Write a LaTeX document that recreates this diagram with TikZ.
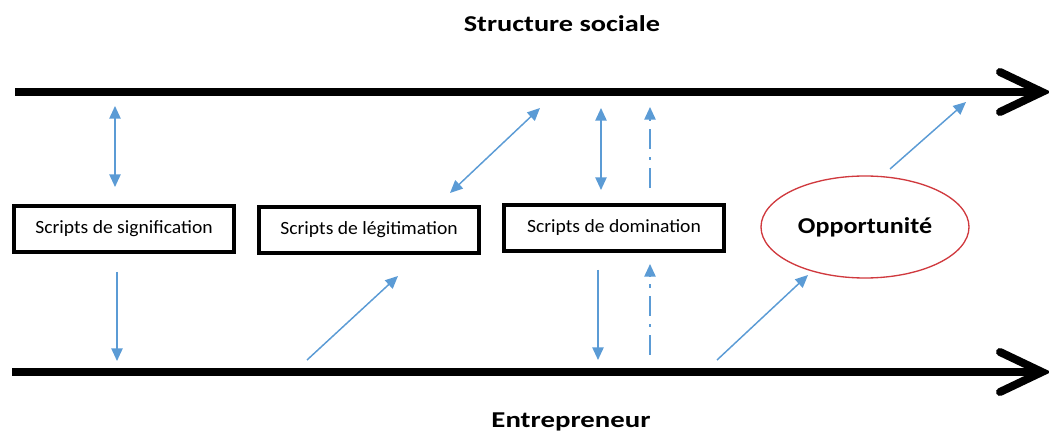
\documentclass[tikz,border=0pt]{standalone}
\usepackage{fontspec}
\setmainfont{Carlito}
\usetikzlibrary{arrows.meta,shapes.geometric}
\definecolor{arrowblue}{HTML}{5B9BD5}
\definecolor{ovalred}{HTML}{D0393E}
\begin{document}
\begin{tikzpicture}[x=0.75pt,y=-0.75pt,
  axis/.style={line width=6pt},
  chevron/.style={line width=6pt,line cap=round,line join=miter},
  scriptbox/.style={draw,line width=2.6pt,minimum width=220*0.75pt,minimum height=46*0.75pt,inner sep=0pt,font=\fontsize{14}{16}\selectfont},
  oval/.style={draw=ovalred,line width=1pt,ellipse,minimum width=208*0.75pt,minimum height=102*0.75pt,inner sep=0pt,font=\bfseries\fontsize{17}{19}\selectfont},
  title/.style={font=\bfseries\fontsize{17}{19}\selectfont,anchor=base,inner sep=0pt},
  blue/.style={draw=arrowblue,line width=1.1pt,-{Triangle[width=8.5pt,length=9.5pt]}},
  bluetwo/.style={draw=arrowblue,line width=1.1pt,{Triangle[width=8.5pt,length=9.5pt]}-{Triangle[width=8.5pt,length=9.5pt]}},
  dashdot/.style={dash pattern=on 15pt off 6pt on 2.5pt off 6pt}
]
\useasboundingbox (0,0) rectangle (1049,434);
% titles
\node[title] (ss) at (562,32) {\scalebox{1.25}[1]{Structure sociale}};
\node[title] (en) at (571,427) {\scalebox{1.27}[1]{Entrepreneur}};
% axes
\coordinate (t0) at (15,92);
\coordinate (t1) at (1042,92);
\coordinate (b0) at (12,372);
\coordinate (b1) at (1042,372);
\draw[axis] (t0) -- (t1);
\draw[axis] (b0) -- (b1);
\draw[chevron] (1000,72) -- (t1) -- (1000,112);
\draw[chevron] (1000,352) -- (b1) -- (1000,392);
% boxes
\node[scriptbox] (sig) at (124,229) {\scalebox{1.05}[1]{Scripts de signification}};
\node[scriptbox] (leg) at (369,230) {\scalebox{1.05}[1]{Scripts de légitimation}};
\node[scriptbox] (dom) at (614,228) {\scalebox{1.05}[1]{Scripts de domination}};
\node[oval] (opp) at (865,227) {\scalebox{1.15}[1]{Opportunité}};
% arrows column 1
\coordinate (a1s) at (115,106); \coordinate (a1e) at (115,187);
\draw[bluetwo] (a1s) -- (a1e);
\coordinate (a2s) at (117,272); \coordinate (a2e) at (117,361);
\draw[blue] (a2s) -- (a2e);
% column 2
\coordinate (a3s) at (307,360); \coordinate (a3e) at (398,276);
\draw[blue] (a3s) -- (a3e);
\coordinate (a4s) at (450,193); \coordinate (a4e) at (540,108);
\draw[bluetwo] (a4s) -- (a4e);
% column 3
\coordinate (a5s) at (601,108); \coordinate (a5e) at (601,190);
\draw[bluetwo] (a5s) -- (a5e);
\coordinate (a6s) at (650,188); \coordinate (a6e) at (650,107);
\draw[blue,dashdot] (a6s) -- (a6e);
\coordinate (a7s) at (598,270); \coordinate (a7e) at (598,360);
\draw[blue] (a7s) -- (a7e);
\coordinate (a8s) at (650,355); \coordinate (a8e) at (650,264);
\draw[blue,dashdot] (a8s) -- (a8e);
% column 4
\coordinate (a9s) at (717,360); \coordinate (a9e) at (808,275);
\draw[blue] (a9s) -- (a9e);
\coordinate (a10s) at (890,169); \coordinate (a10e) at (966,102);
\draw[blue] (a10s) -- (a10e);
\end{tikzpicture}
\end{document}
